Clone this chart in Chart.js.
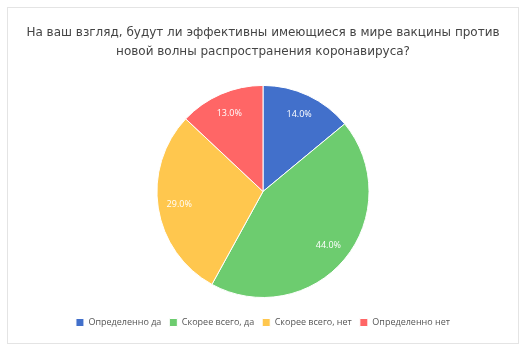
<!DOCTYPE html>
<html><head><meta charset="utf-8">
<script src="https://cdn.jsdelivr.net/npm/chart.js@4"></script>
<style>
html,body{margin:0;padding:0;background:#fff;}
#box{position:absolute;left:7px;top:7px;width:512px;height:337px;border:1px solid #e4e4e4;box-sizing:border-box;}
#c{display:block;}
</style></head><body>
<div id="box"><canvas id="c" width="510" height="335"></canvas></div>
<script>
const titleLines = ["На ваш взгляд, будут ли эффективны имеющиеся в мире вакцины против", "новой волны распространения коронавируса?"];
const categories = ["Определенно да", "Скорее всего, да", "Скорее всего, нет", "Определенно нет"];
const values = [14.0, 44.0, 29.0, 13.0];
const colors = ["#4270CB", "#6DCC6F", "#FFC74E", "#FF6666"];

const labelPlugin = {
  id: 'sliceLabels',
  afterDatasetsDraw(chart) {
    const ctx = chart.ctx;
    const meta = chart.getDatasetMeta(0);
    ctx.save();
    ctx.fillStyle = '#fff';
    ctx.font = '9px "Open Sans"';
    ctx.textAlign = 'center';
    ctx.textBaseline = 'middle';
    meta.data.forEach((arc, i) => {
      const p = arc.getProps(['x','y','startAngle','endAngle','outerRadius']);
      const a = (p.startAngle + p.endAngle) / 2;
      const r = p.outerRadius * 0.8;
      ctx.fillText(values[i].toFixed(1) + '%', p.x + Math.cos(a) * r, p.y + Math.sin(a) * r);
    });
    ctx.restore();
  }
};

const legendShift = {
  id: 'legendShift',
  afterInit(chart) {
    const lg = chart.legend;
    const fit = lg.fit;
    lg.fit = function() { fit.call(this); this.height += 16; };
  },
  afterLayout(chart) {
    const lg = chart.legend;
    lg.top += 12; lg.bottom += 12;
  }
};

new Chart(document.getElementById('c'), {
  type: 'pie',
  data: {
    labels: categories,
    datasets: [{ data: values, backgroundColor: colors, borderColor: '#fff', borderWidth: 1 }]
  },
  options: {
    responsive: false,
    animation: false,
    layout: { padding: { top: 0, bottom: 2 } },
    plugins: {
      title: {
        display: true, text: titleLines, color: '#444',
        font: { family: 'DejaVu Sans', size: 12, weight: 'normal', lineHeight: 1.58 },
        padding: { top: 15, bottom: 24 }
      },
      legend: {
        position: 'bottom',
        labels: { boxWidth: 8, boxHeight: 8, color: '#555', font: { family: 'Open Sans', size: 9 }, padding: 8 }
      },
      tooltip: { enabled: false }
    }
  },
  plugins: [labelPlugin, legendShift]
});
</script>
</body></html>
